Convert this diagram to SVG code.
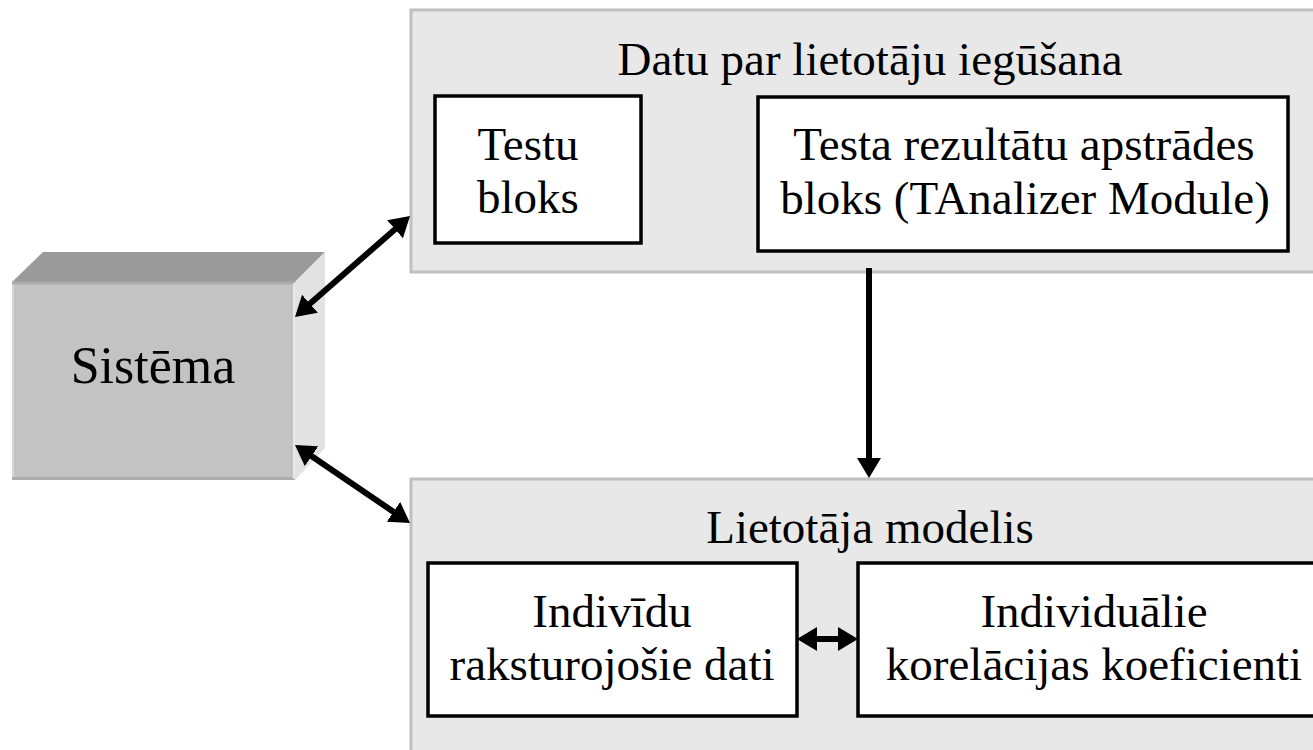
<svg xmlns="http://www.w3.org/2000/svg" width="1313" height="750" viewBox="0 0 1313 750">
  <style>
    .panel { fill: #e8e8e8; stroke: #c0c0c0; stroke-width: 3; }
    .box { fill: #ffffff; stroke: #000000; stroke-width: 3.5; }
    .lbl { font-family: "Liberation Serif", "Times New Roman", serif; font-size: 47px; fill: #000000; text-anchor: middle; }
    .big { font-size: 52px; }
    .conn { stroke: #000000; stroke-width: 6; fill: none; }
  </style>
  <defs>
    <marker id="head" viewBox="0 0 20 24" refX="2" refY="12" markerWidth="20" markerHeight="24" markerUnits="userSpaceOnUse" orient="auto-start-reverse">
      <path d="M0,0 L20,12 L0,24 z" fill="#000000"/>
    </marker>
  </defs>

  <rect width="1313" height="750" fill="#ffffff"/>

  <!-- System block drawn as a shaded 3D box -->
  <g id="sistema">
    <polygon points="12,282 43,252 325,252 295,282" fill="#9b9b9b"/>
    <polygon points="295,282 325,252 325,448 295,480" fill="#e2e2e2"/>
    <rect x="12" y="282" width="283" height="198" fill="#c3c3c3"/>
    <line x1="13" y1="283" x2="13" y2="479" stroke="#d6d6d6" stroke-width="2"/>
    <line x1="12" y1="283" x2="295" y2="283" stroke="#ababab" stroke-width="3"/>
    <line x1="12" y1="478.5" x2="295" y2="478.5" stroke="#ababab" stroke-width="3"/>
    <line x1="294" y1="283" x2="294" y2="479" stroke="#e8e8e8" stroke-width="2"/>
    <text class="lbl big" x="153" y="383">Sistēma</text>
  </g>

  <!-- Data acquisition panel -->
  <g id="datu-iegusana">
    <rect class="panel" x="411" y="10" width="930" height="262"/>
    <text class="lbl" x="870" y="75">Datu par lietotāju iegūšana</text>
  </g>

  <g id="testu-bloks">
    <rect class="box" x="435" y="96" width="206" height="147"/>
    <text class="lbl" x="528" y="160">Testu</text>
    <text class="lbl" x="528" y="213">bloks</text>
  </g>

  <g id="tanalizer">
    <rect class="box" x="758" y="97" width="530" height="154"/>
    <text class="lbl" x="1024" y="160">Testa rezultātu apstrādes</text>
    <text class="lbl" x="1025" y="214">bloks (TAnalizer Module)</text>
  </g>

  <!-- User model panel -->
  <g id="lietotaja-modelis">
    <rect class="panel" x="411" y="479" width="930" height="290"/>
    <text class="lbl" x="870" y="543">Lietotāja modelis</text>
  </g>

  <g id="individu-dati">
    <rect class="box" x="428" y="563" width="369" height="153"/>
    <text class="lbl" x="612" y="627">Indivīdu</text>
    <text class="lbl" x="612" y="680">raksturojošie dati</text>
  </g>

  <g id="korelacijas">
    <rect class="box" x="858" y="563" width="460" height="153"/>
    <text class="lbl" x="1094" y="627">Individuālie</text>
    <text class="lbl" x="1094" y="680">korelācijas koeficienti</text>
  </g>

  <!-- Connectors: tips at the box edges, heads drawn by the marker -->
  <g id="connectors">
    <line class="conn" x1="308.5" y1="305.1" x2="396.5" y2="227.9" marker-start="url(#head)" marker-end="url(#head)"/>
    <line class="conn" x1="309.9" y1="455.1" x2="395.1" y2="512.9" marker-start="url(#head)" marker-end="url(#head)"/>
    <line class="conn" x1="869" y1="268" x2="869" y2="460" marker-end="url(#head)"/>
    <line class="conn" x1="815" y1="639" x2="840" y2="639" marker-start="url(#head)" marker-end="url(#head)"/>
  </g>
</svg>
